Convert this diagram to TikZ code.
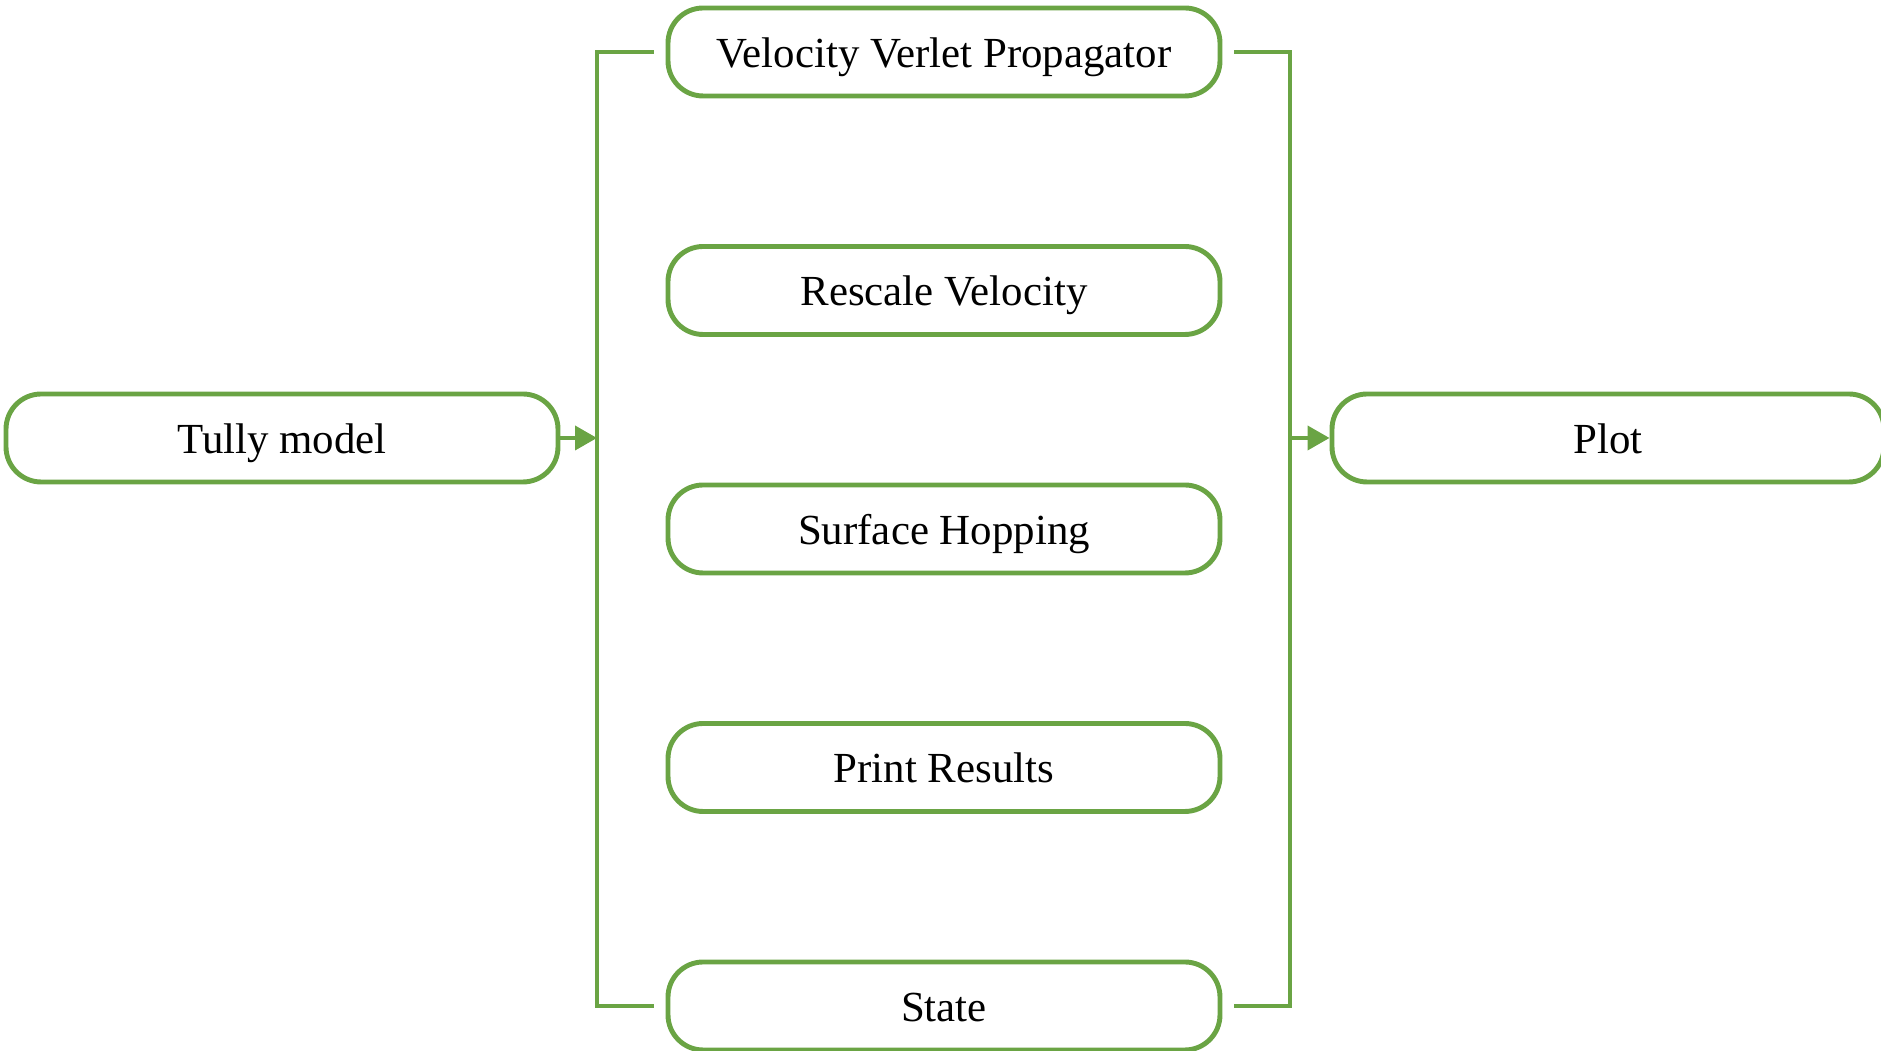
\documentclass[tikz,border=0pt]{standalone}
\usepackage{fontspec}
\setmainfont{Liberation Serif}
\usepackage{tikz}
\usetikzlibrary{arrows.meta, positioning, calc}
\definecolor{hoja}{HTML}{6AA444}
\tikzset{
  every picture/.style={font=\fontsize{12.2}{14}\selectfont, >=Triangle},
  modulo/.style={draw=hoja, text=black, line width=1.4pt, fill=white, rounded corners=10pt,
              minimum width=5.52cm, minimum height=0.88cm, inner sep=0pt, align=center,
              text height=10.6pt, text depth=1.8pt},
  enlace/.style={draw=hoja, line width=1.1pt},
  flecha/.style={-{Triangle[length=0.22cm, width=0.24cm]}, line width=1.1pt, hoja},
}
\begin{document}
\begin{tikzpicture}[x=1cm, y=1cm]
  \useasboundingbox (0,0) rectangle (18.81,10.51);
  \node[modulo] (tully) at (2.82,6.13) {Tully model};
  \node[modulo] (vvp) at (9.44,9.99) {Velocity Verlet Propagator};
  \node[modulo] (rescale) at (9.44,7.605) {Rescale Velocity};
  \node[modulo] (hop) at (9.44,5.22) {Surface Hopping};
  \node[modulo] (printres) at (9.44,2.835) {Print Results};
  \node[modulo] (state) at (9.44,0.45) {State};
  \node[modulo] (plot) at (16.08,6.13) {Plot};
  \coordinate (juntaizq) at (5.97,6.13);
  \coordinate (juntader) at (12.90,6.13);
  \draw[enlace] ([xshift=-1.2mm]vvp.west) -| (juntaizq) |- ([xshift=-1.2mm]state.west);
  \draw[enlace] ([xshift=1.2mm]vvp.east) -| (juntader) |- ([xshift=1.2mm]state.east);
  \draw[flecha] (tully) -- (juntaizq);
  \draw[flecha] (juntader) -- (plot);
\end{tikzpicture}
\end{document}
